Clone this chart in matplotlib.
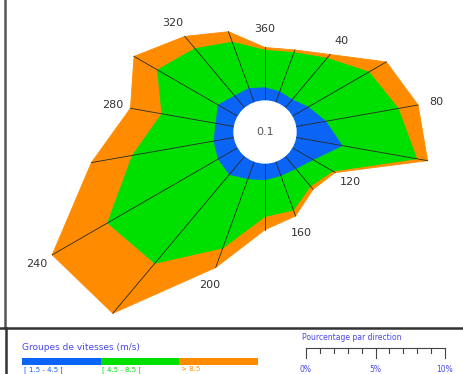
import numpy as np
import matplotlib
matplotlib.use("Agg")
import matplotlib.pyplot as plt

# directions (deg, clockwise from north)
directions = [0, 20, 40, 60, 80, 100, 120, 140, 160, 180, 200, 220, 240, 260, 280, 300, 320, 340]
# percentage per direction for each speed group
low = [0.95, 0.85, 0.8, 1.35, 2.2, 3.4, 1.75, 1.2, 1.1, 1.2, 1.35, 1.75, 1.65, 1.5, 1.35, 1.65, 1.15, 1.1]
mid = [2.7, 3.0, 3.9, 5.05, 5.3, 5.45, 1.65, 1.65, 2.65, 2.65, 5.3, 8.35, 9.2, 5.95, 3.95, 5.05, 4.45, 3.55]
high = [0.2, 0.2, 0.35, 1.45, 1.45, 0.8, 0.2, 0.3, 0.45, 0.95, 1.5, 4.7, 4.6, 3.0, 2.3, 1.95, 1.15, 0.8]
calm = "0.1"
dir_labels = {0: "360", 40: "40", 80: "80", 120: "120", 160: "160",
              200: "200", 240: "240", 280: "280", 320: "320"}
group_names = ["[ 1.5 - 4.5 [", "[ 4.5 - 8.5 [", "> 8.5"]
scale_ticks = [0, 5, 10]

colors = ["#0a64f5", "#00e000", "#ff8c00"]
r0 = 2.23  # radius of calm circle, in % units
px = 13.9  # pixels per %

fig = plt.figure(figsize=(4.63, 3.74), dpi=100)

# ---- rose ----
ax = fig.add_axes([0, 49 / 374, 1, 325 / 374])
ax.set_xlim(-265 / px, 198 / px)
ax.set_ylim(-193 / px, 132 / px)
ax.axis("off")

th = np.radians(directions)
cum1 = np.array(low)
cum2 = cum1 + np.array(mid)
cum3 = cum2 + np.array(high)

for cum, c in zip([cum3, cum2, cum1], colors[::-1]):
    r = r0 + cum
    ax.fill(r * np.sin(th), r * np.cos(th), facecolor=c, edgecolor=c, lw=0.6, zorder=1)

ax.add_patch(plt.Circle((0, 0), r0, color="white", zorder=3))

for t, ro in zip(th, r0 + cum3):
    ax.plot([r0 * np.sin(t), ro * np.sin(t)], [r0 * np.cos(t), ro * np.cos(t)],
            color="#2a2a2a", lw=0.6, zorder=2)

ax.text(0, 0, calm, ha="center", va="center", fontsize=8, color="#555555", zorder=4)

for d, ro in zip(directions, r0 + cum3):
    if d in dir_labels:
        t = np.radians(d)
        rl = ro + 1.3
        ax.text(rl * np.sin(t), rl * np.cos(t), dir_labels[d], ha="center", va="center",
                fontsize=8, color="#333333")

# ---- frame + legend (pixel coords) ----
lg = fig.add_axes([0, 0, 1, 1], zorder=5)
lg.set_xlim(0, 463)
lg.set_ylim(374, 0)
lg.axis("off")
lg.patch.set_alpha(0)

lg.plot([5, 5], [0, 328], color="#555555", lw=1.8)
lg.plot([6, 6], [328, 374], color="#333333", lw=1.8)
lg.plot([0, 463], [328, 328], color="#333333", lw=1.8)

blue_txt = "#4848e8"
lg.text(22, 348, "Groupes de vitesses (m/s)", fontsize=6.5, color=blue_txt, va="center")
x = 22
w = 78.5
for name, c in zip(group_names, colors):
    lg.fill_between([x, x + w], 358, 365, color=c, lw=0)
    lg.text(x + 2, 366, name, fontsize=5, color=c, va="top")
    x += w

lg.text(302, 337, "Pourcentage par direction", fontsize=5.5, color=blue_txt, va="center")
x0 = 306
lg.plot([x0, x0 + 10 * px], [348, 348], color="#444444", lw=0.8)
for i in range(11):
    tl = 358 if i in (0, 5, 10) else 353
    lg.plot([x0 + i * px, x0 + i * px], [348, tl], color="#444444", lw=0.8)
for v in scale_ticks:
    lg.text(x0 + v * px, 365, f"{v}%", fontsize=5.5, color=blue_txt, ha="center", va="top")

fig.savefig("out.png", dpi=100)
